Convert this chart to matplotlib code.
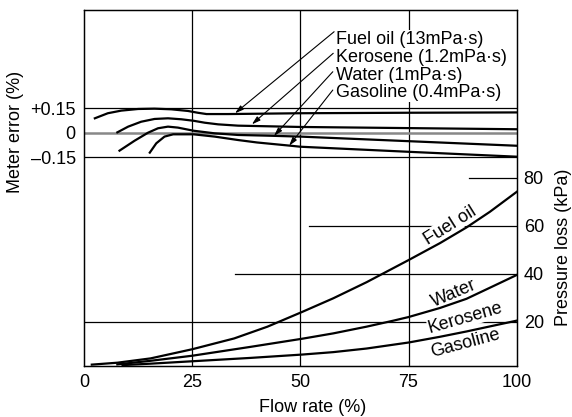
import matplotlib.pyplot as plt

plt.rcParams['font.family'] = ['Liberation Sans', 'DejaVu Sans']

# Meter error curves (flow %, error %)
fuel_x = [2.5, 5.5, 8.6, 12.5, 16.3, 20.2, 24, 26.3, 28.3, 33.3, 50, 75, 100]
fuel_err = [0.088, 0.119, 0.135, 0.145, 0.147, 0.143, 0.133, 0.122, 0.114, 0.114, 0.119, 0.122, 0.124]
kero_x = [7.7, 10.2, 13.2, 16.3, 19.4, 22.5, 25.3, 27.9, 31, 35.6, 50, 75, 100]
kero_err = [0.002, 0.037, 0.067, 0.084, 0.088, 0.082, 0.073, 0.061, 0.051, 0.043, 0.035, 0.028, 0.021]
water_x = [8.2, 11.7, 14.8, 17.1, 19.4, 21.7, 25.3, 30.2, 35.6, 42, 50, 75, 100]
water_err = [-0.110, -0.049, 0.0, 0.027, 0.037, 0.031, 0.012, -0.004, -0.014, -0.018, -0.024, -0.052, -0.080]
gas_x = [15.2, 16.7, 18.6, 20.6, 25.3, 30.2, 35.6, 40, 47.8, 50, 75, 100]
gas_err = [-0.122, -0.065, -0.024, -0.010, -0.010, -0.024, -0.045, -0.060, -0.080, -0.086, -0.117, -0.147]

# Pressure loss curves (flow %, kPa)
p_fuel_x = [1.8, 7.7, 15.4, 25, 34.7, 42.4, 50.5, 57.6, 65.3, 75, 82.3, 88.4, 93.8, 100]
p_fuel = [2.2, 3.0, 4.8, 8.6, 13.1, 18.0, 24.2, 29.8, 36.5, 45.7, 52.8, 59.3, 65.8, 74.1]
p_water_x = [7.7, 15.4, 25, 38.5, 50.5, 57.6, 65.3, 71.5, 75, 82.3, 88.4, 93.8, 100]
p_water = [2.3, 3.8, 5.9, 9.6, 13.0, 15.2, 18.0, 20.5, 22.0, 25.8, 29.6, 34.2, 39.5]
p_gas_x = [8.9, 15.4, 25, 38.5, 50.5, 57.6, 65.3, 75, 82.3, 88.4, 93.8, 100]
p_gas = [2.0, 2.6, 3.6, 5.0, 6.4, 7.4, 8.9, 11.4, 13.8, 16.0, 18.1, 20.5]

legend_names = ['Fuel oil (13mPa·s)', 'Kerosene (1.2mPa·s)', 'Water (1mPa·s)', 'Gasoline (0.4mPa·s)']
legend_y = [0.572, 0.462, 0.353, 0.245]
arrow_tail = [(57.8, 0.618), (57.6, 0.486), (57.5, 0.373), (57.5, 0.261)]
arrow_head = [(34.9, 0.119), (38.8, 0.051), (43.9, -0.020), (47.4, -0.080)]

curve_labels = ['Fuel oil', 'Water', 'Kerosene', 'Gasoline']
curve_label_x = [84.6, 85.4, 88.2, 88.2]
curve_label_p = [60.2, 31.9, 21.5, 11.1]
curve_label_rot = [32, 23, 16, 15]

err_ticks = [-0.15, 0, 0.15]
err_labels = ['\u20130.15', '0', '+0.15']
p_ticks = [20, 40, 60, 80]
p_line_start = [0, 35, 52, 89]
x_ticks = [0, 25, 50, 75, 100]

fs = 13

fig = plt.figure(figsize=(5.72, 4.17), dpi=100)
ax = fig.add_axes([0.1469, 0.1230, 0.7564, 0.8542])
ax2 = ax.twinx()

ax.set_xlim(0, 100)
ax.set_ylim(-1.4265, 0.754)
ax2.set_ylim(1.75, 150)

# grid lines
for xv in [25, 50, 75]:
    ax.axvline(xv, color='black', lw=0.9, zorder=1)
ax.axhline(0.15, color='black', lw=0.9, zorder=1)
ax.axhline(-0.15, color='black', lw=0.9, zorder=1)
ax.axhline(0, color='#888888', lw=1.8, zorder=1)
for pv, xs in zip(p_ticks, p_line_start):
    ax2.plot([xs, 100], [pv, pv], color='black', lw=0.9, zorder=1)

# meter error curves
for xs, ys in [(fuel_x, fuel_err), (kero_x, kero_err), (water_x, water_err), (gas_x, gas_err)]:
    ax.plot(xs, ys, color='black', lw=1.6, zorder=3, solid_joinstyle='round')

# pressure loss curves
for xs, ys in [(p_fuel_x, p_fuel), (p_water_x, p_water), (p_gas_x, p_gas)]:
    ax2.plot(xs, ys, color='black', lw=1.6, zorder=3, solid_joinstyle='round')

# legend texts and arrows
for name, ty, tail, head in zip(legend_names, legend_y, arrow_tail, arrow_head):
    ax2.text(58.2, ty, name, fontsize=fs, va='center', ha='left',
             transform=ax.transData, zorder=2,
             bbox=dict(facecolor='white', edgecolor='none', pad=0.5))
    ax.annotate('', xy=head, xytext=tail,
                arrowprops=dict(arrowstyle='-|>,head_length=0.5,head_width=0.15',
                                color='black', lw=0.8, shrinkA=0, shrinkB=0))

# curve labels on pressure part
bb = dict(facecolor='white', edgecolor='none', pad=0.3)
for lab, lx, lp, rot in zip(curve_labels, curve_label_x, curve_label_p, curve_label_rot):
    ax2.text(lx, lp, lab, rotation=rot, ha='center', va='center', fontsize=fs,
             zorder=2, bbox=bb, rotation_mode='anchor')

ax.set_xticks(x_ticks)
ax.set_yticks(err_ticks)
ax.set_yticklabels(err_labels)
ax2.set_yticks(p_ticks)
ax.tick_params(axis='both', length=0, labelsize=fs)
ax.tick_params(axis='x', pad=6)
ax.tick_params(axis='y', pad=6)
ax2.tick_params(axis='y', length=0, labelsize=fs, pad=5)

for a in (ax, ax2):
    for s in a.spines.values():
        s.set_linewidth(0.9)

fig.text(313 / 572, 1 - 407 / 417, 'Flow rate (%)', ha='center', va='center', fontsize=fs)
fig.text(16 / 572, 1 - 132 / 417, 'Meter error (%)', rotation=90, ha='center', va='center', fontsize=fs)
fig.text(563 / 572, 1 - 247 / 417, 'Pressure loss (kPa)', rotation=90, ha='center', va='center', fontsize=fs)

fig.savefig('out.png', dpi=100)
